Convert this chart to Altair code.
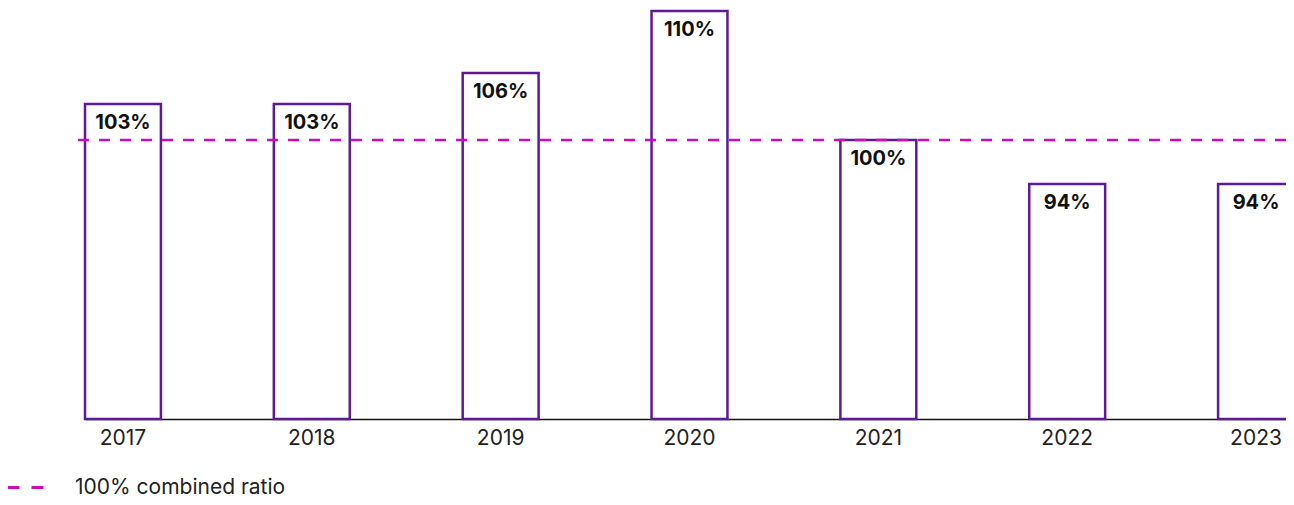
import altair as alt
import pandas as pd

# Data
years = ["2017", "2018", "2019", "2020", "2021", "2022", "2023"]
ratio_labels = ["103%", "103%", "106%", "110%", "100%", "94%", "94%"]
# bar heights as drawn, in units where the dashed 100% line = 100
bar_heights = [112.9, 112.9, 124.0, 146.2, 100.0, 84.2, 84.2]
reference_value = [100]
reference_label = ["100% combined ratio"]

PURPLE = "#5c1a94"
MAGENTA = "#cc0cb8"
FONT = "Inter"

bars_df = pd.DataFrame({"year": years, "height": bar_heights, "label": ratio_labels})
ref_df = pd.DataFrame({"value": reference_value, "series": reference_label})

x = alt.X(
    "year:N",
    sort=years,
    scale=alt.Scale(range=[11, 1220], paddingInner=0.598, paddingOuter=0),
    axis=alt.Axis(
        title=None,
        labelAngle=0,
        ticks=False,
        domain=True,
        domainColor="#111111",
        domainWidth=1.5,
        labelFont=FONT,
        labelFontSize=21,
        labelColor="#222222",
        labelBaseline="alphabetic",
        labelPadding=25,
    ),
)
y_scale = alt.Scale(domain=[0, 147.3], nice=False, zero=True)

bars = alt.Chart(bars_df).mark_bar(
    fill="white", fillOpacity=0, stroke=PURPLE, strokeWidth=2.5
).encode(
    x=x,
    y=alt.Y("height:Q", scale=y_scale, axis=None),
)

labels = alt.Chart(bars_df).mark_text(
    font=FONT, fontSize=20, fontWeight="bold", color="#111111",
    baseline="alphabetic", align="center", dy=25,
).encode(
    x=alt.X("year:N", sort=years),
    y=alt.Y("height:Q", scale=y_scale, axis=None),
    text="label:N",
)

rule = alt.Chart(ref_df).mark_rule(strokeWidth=2.5, strokeDash=[11, 10]).encode(
    y=alt.Y("value:Q", scale=y_scale, axis=None),
    color=alt.Color(
        "series:N",
        scale=alt.Scale(range=[MAGENTA]),
        legend=alt.Legend(
            title=None,
            orient="none",
            legendX=-68,
            legendY=455,
            symbolType="stroke",
            symbolSize=2116,
            symbolStrokeWidth=3,
            symbolDash=[12, 12],
            labelFont=FONT,
            labelFontSize=21,
            labelColor="#222222",
            labelOffset=20,
            labelLimit=500,
        ),
    ),
)

chart = (
    alt.layer(bars, rule, labels)
    .properties(
        width=1212,
        height=411,
        autosize=alt.AutoSizeParams(type="none"),
        padding={"left": 66, "top": 0, "right": 0, "bottom": 78},
    )
    .configure_view(stroke=None)
)

chart.save("out.html", embed_options={"renderer": "svg", "actions": False})
